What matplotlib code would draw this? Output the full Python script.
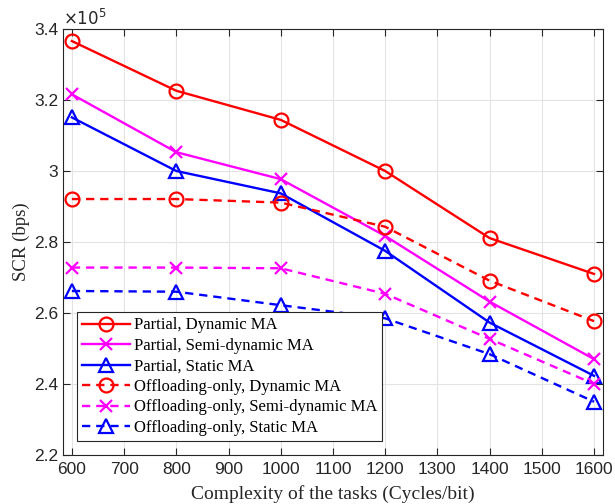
import matplotlib
matplotlib.use("Agg")
import matplotlib.pyplot as plt
from matplotlib.ticker import FuncFormatter, MultipleLocator

complexity = [600, 800, 1000, 1200, 1400, 1600]
partial_dynamic = [3.366e5, 3.226e5, 3.144e5, 3.000e5, 2.811e5, 2.710e5]
partial_semi = [3.216e5, 3.053e5, 2.977e5, 2.817e5, 2.632e5, 2.470e5]
partial_static = [3.151e5, 3.000e5, 2.937e5, 2.775e5, 2.573e5, 2.423e5]
offload_dynamic = [2.921e5, 2.921e5, 2.911e5, 2.843e5, 2.691e5, 2.577e5]
offload_semi = [2.728e5, 2.728e5, 2.726e5, 2.654e5, 2.527e5, 2.400e5]
offload_static = [2.662e5, 2.660e5, 2.622e5, 2.585e5, 2.484e5, 2.350e5]

labels = ["Partial, Dynamic MA", "Partial, Semi-dynamic MA", "Partial, Static MA",
          "Offloading-only, Dynamic MA", "Offloading-only, Semi-dynamic MA",
          "Offloading-only, Static MA"]

fig = plt.figure(figsize=(6.15, 5.04), dpi=100)
ax = fig.add_axes([0.1024, 0.0972, 0.878, 0.8453])

serif = ["Liberation Serif", "DejaVu Serif"]
sans = ["Liberation Sans", "DejaVu Sans"]

series = [
    (partial_dynamic, "red", "-", "o"),
    (partial_semi, "magenta", "-", "x"),
    (partial_static, "blue", "-", "^"),
    (offload_dynamic, "red", "--", "o"),
    (offload_semi, "magenta", "--", "x"),
    (offload_static, "blue", "--", "^"),
]
for (vals, c, ls, m), lab in zip(series, labels):
    ms = 10 if m != "x" else 8
    ax.plot(complexity, vals, color=c, linestyle=ls, marker=m, markersize=ms,
            markerfacecolor="none", markeredgewidth=1.6, linewidth=1.7, label=lab,
            dashes=(3.5, 2.5) if ls == "--" else (None, None))

ax.set_xlim(583, 1617)
ax.set_ylim(2.2e5, 3.4e5)
ax.xaxis.set_major_locator(MultipleLocator(100))
ax.yaxis.set_major_locator(MultipleLocator(0.2e5))
ax.yaxis.set_major_formatter(FuncFormatter(lambda v, p: "%g" % round(v / 1e5, 2)))
ax.grid(True, color="#e3e3e3", linewidth=0.8)
ax.set_axisbelow(True)
ax.tick_params(direction="in", top=True, right=True, labelsize=12.5, length=5,
               color="#262626", labelcolor="#262626")
ax.tick_params(axis="x", pad=5)
for lab in ax.get_xticklabels() + ax.get_yticklabels():
    lab.set_fontfamily(sans)
for s in ax.spines.values():
    s.set_color("#262626")
    s.set_linewidth(0.8)

ax.set_xlabel("Complexity of the tasks (Cycles/bit)", fontfamily=serif, fontsize=14,
              color="#262626", labelpad=6)
ax.set_ylabel("SCR (bps)", fontfamily=serif, fontsize=13.5, color="#262626", labelpad=3)
ax.text(0.0, 1.002, r"$\times10^5$", transform=ax.transAxes, fontsize=12,
        color="#262626", ha="left", va="bottom", fontfamily=sans)

leg = ax.legend(loc="lower left", bbox_to_anchor=(0.026, 0.033), prop={"family": serif, "size": 12},
                frameon=True, fancybox=False, edgecolor="#262626", framealpha=1,
                handlelength=2.9, handletextpad=0.2, labelspacing=0.27, borderpad=0.3,
                borderaxespad=0.0)
leg.get_frame().set_linewidth(0.8)

fig.savefig("out.png", dpi=100)
